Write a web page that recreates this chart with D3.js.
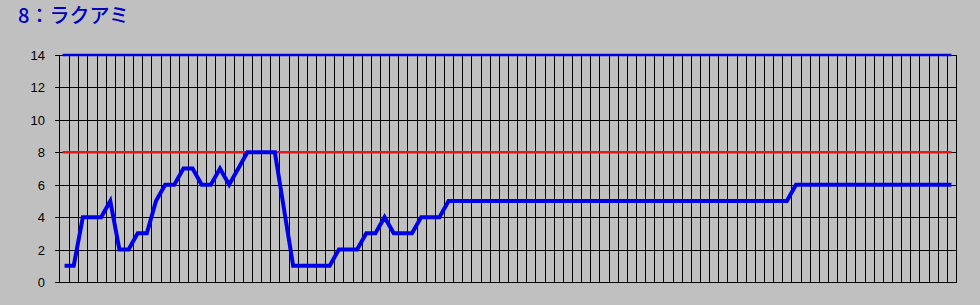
<!DOCTYPE html>
<html>
<head>
<meta charset="utf-8">
<script src="https://cdn.jsdelivr.net/npm/d3@7"></script>
<style>
  html, body { margin: 0; padding: 0; background: #c0c0c0; }
  svg { display: block; }
  .tick-label { font-family: "Liberation Sans", Arial, sans-serif; font-size: 13px; fill: #000; }
  .title { font-family: "Noto Sans CJK JP", sans-serif; font-size: 20px; font-weight: 500; fill: #0000c0; }
</style>
</head>
<body>
<div id="chart"></div>
<script>
const title = "8：ラクアミ";

// one value per race, left to right
const values = [
  1, 1, 4, 4, 4, 5, 2, 2, 3, 3,
  5, 6, 6, 7, 7, 6, 6, 7, 6, 7,
  8, 8, 8, 8, 4.5, 1, 1, 1, 1, 1,
  2, 2, 2, 3, 3, 4, 3, 3, 3, 4,
  4, 4, 5, 5, 5, 5, 5, 5, 5, 5,
  5, 5, 5, 5, 5, 5, 5, 5, 5, 5,
  5, 5, 5, 5, 5, 5, 5, 5, 5, 5,
  5, 5, 5, 5, 5, 5, 5, 5, 5, 5,
  6, 6, 6, 6, 6, 6, 6, 6, 6, 6,
  6, 6, 6, 6, 6, 6, 6, 6
];
const upperLine = 14; // blue reference line
const redLine = 8;    // red reference line
const yTicks = [0, 2, 4, 6, 8, 10, 12, 14];

const width = 980,
  height = 305;
const margin = { top: 55, right: 24, bottom: 23, left: 60 };

const svg = d3.select("#chart").append("svg").attr("width", width).attr("height", height);

svg.append("rect").attr("width", width).attr("height", height).attr("fill", "#c0c0c0");

const x = d3
  .scaleBand()
  .domain(d3.range(values.length))
  .range([margin.left, width - margin.right])
  .padding(0);
const y = d3.scaleLinear().domain([0, 14]).range([height - margin.bottom, margin.top]);

const cx = i => x(i) + x.bandwidth() / 2;
const crisp = v => Math.round(v) + 0.5;

const grid = svg.append("g").attr("stroke", "#000").attr("stroke-width", 1).attr("shape-rendering", "crispEdges");

// vertical gridlines at category boundaries
grid
  .selectAll("line.v")
  .data(d3.range(1, values.length + 1))
  .join("line")
  .attr("class", "v")
  .attr("x1", i => crisp(i < values.length ? x(i) : x.range()[1]))
  .attr("x2", i => crisp(i < values.length ? x(i) : x.range()[1]))
  .attr("y1", crisp(y(14)))
  .attr("y2", crisp(y(0)));

// horizontal gridlines + ticks
grid
  .selectAll("line.h")
  .data(yTicks)
  .join("line")
  .attr("class", "h")
  .attr("x1", margin.left - 5)
  .attr("x2", crisp(x.range()[1]))
  .attr("y1", d => crisp(y(d)))
  .attr("y2", d => crisp(y(d)));

// y axis line
grid
  .append("line")
  .attr("x1", crisp(margin.left - 1))
  .attr("x2", crisp(margin.left - 1))
  .attr("y1", crisp(y(14)))
  .attr("y2", crisp(y(0)));

svg
  .append("g")
  .selectAll("text")
  .data(yTicks)
  .join("text")
  .attr("class", "tick-label")
  .attr("x", 45)
  .attr("y", d => crisp(y(d)))
  .attr("dy", "0.36em")
  .attr("text-anchor", "end")
  .text(d => d);

const first = cx(0),
  last = cx(values.length - 1);

// reference lines
svg
  .append("line")
  .attr("x1", first - 2)
  .attr("x2", last)
  .attr("y1", y(redLine))
  .attr("y2", y(redLine))
  .attr("stroke", "#e01818")
  .attr("stroke-width", 2.5);

svg
  .append("line")
  .attr("x1", first - 2)
  .attr("x2", last)
  .attr("y1", y(upperLine))
  .attr("y2", y(upperLine))
  .attr("stroke", "#0000e0")
  .attr("stroke-width", 2.5);

// main series
const line = d3
  .line()
  .x((d, i) => cx(i))
  .y(d => y(d));

svg
  .append("path")
  .datum(values)
  .attr("d", line)
  .attr("fill", "none")
  .attr("stroke", "#0000e8")
  .attr("stroke-width", 4)
  .attr("stroke-linejoin", "miter");

svg.append("text").attr("class", "title").attr("x", 18).attr("y", 23).text(title);
</script>
</body>
</html>
